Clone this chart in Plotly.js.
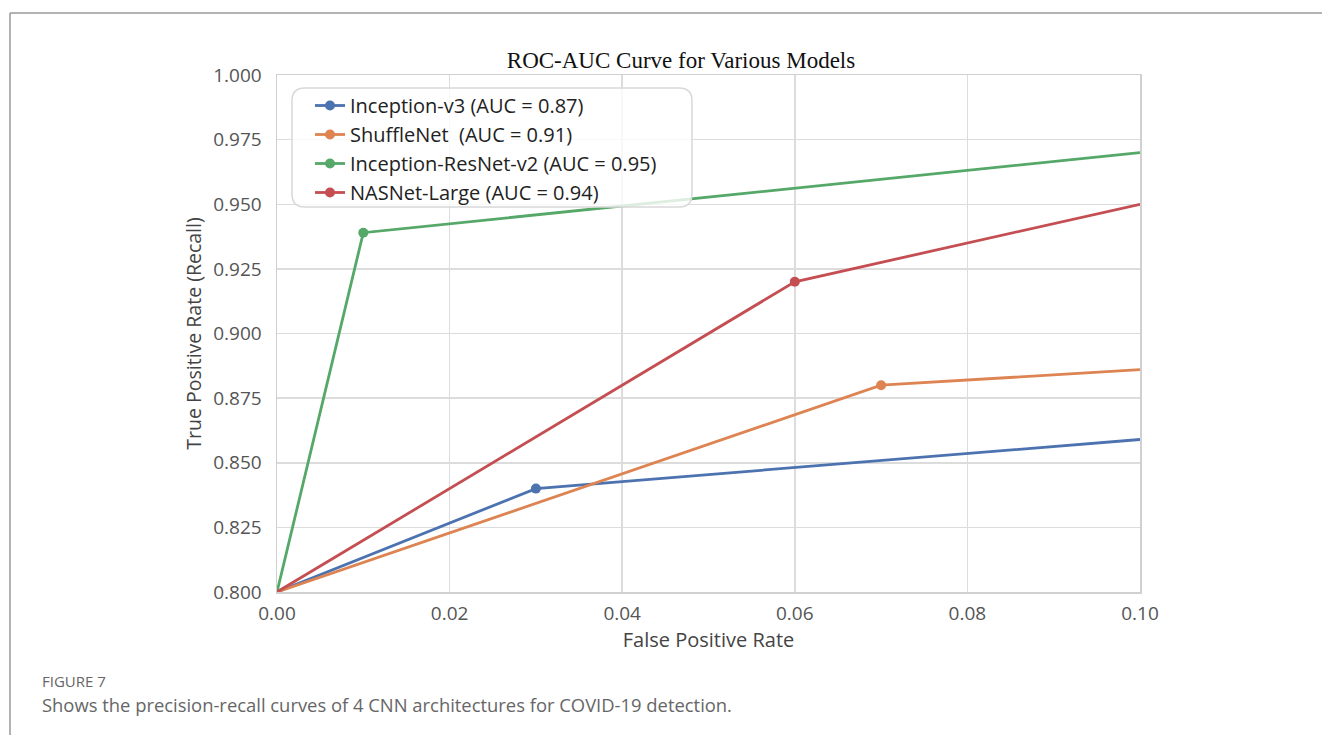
<!DOCTYPE html>
<html>
<head>
<meta charset="utf-8">
<script src="https://cdn.plot.ly/plotly-3.0.1.min.js"></script>
<style>
html,body{margin:0;padding:0;background:#fff;}
#chart{width:1322px;height:735px;}
</style>
</head>
<body>
<div id="chart"></div>
<script>
// Data
const modelNames = ["Inception-v3 (AUC = 0.87)", "ShuffleNet  (AUC = 0.91)", "Inception-ResNet-v2 (AUC = 0.95)", "NASNet-Large (AUC = 0.94)"];
const fprInceptionV3 = [0.0, 0.03, 0.10];
const tprInceptionV3 = [0.80, 0.84, 0.859];
const fprShuffleNet = [0.0, 0.07, 0.10];
const tprShuffleNet = [0.80, 0.88, 0.886];
const fprIncResNet = [0.0, 0.01, 0.10];
const tprIncResNet = [0.80, 0.939, 0.97];
const fprNASNet = [0.0, 0.06, 0.10];
const tprNASNet = [0.80, 0.92, 0.95];
const xTicks = [0.00, 0.02, 0.04, 0.06, 0.08, 0.10];
const yTicks = [0.800, 0.825, 0.850, 0.875, 0.900, 0.925, 0.950, 0.975, 1.000];
const colors = ["#4C72B0", "#DD8452", "#55A868", "#C44E52"];

const series = [
  [fprInceptionV3, tprInceptionV3],
  [fprShuffleNet, tprShuffleNet],
  [fprIncResNet, tprIncResNet],
  [fprNASNet, tprNASNet]
];

const traces = [];
series.forEach((s, i) => {
  // full curve (line only)
  traces.push({
    x: s[0], y: s[1], name: modelNames[i], type: "scatter", mode: "lines",
    line: {color: colors[i], width: 2.8}, showlegend: false, legendgroup: "g" + i
  });
});
series.forEach((s, i) => {
  // marked interior points (also provides the legend entry)
  const xs = s[0].slice(1, -1), ys = s[1].slice(1, -1);
  traces.push({
    x: xs, y: ys, name: modelNames[i], type: "scatter", mode: "lines+markers",
    line: {color: colors[i], width: 2.8}, marker: {color: colors[i], size: 10},
    legendgroup: "g" + i
  });
});

const L = 277, R = 1140, T = 75, B = 592;
const W = R - L, H = B - T;
const px = v => (v - L) / W;
const py = v => (B - v) / H;

// rounded legend box
const bx0 = 292, bx1 = 692, by0 = 88, by1 = 207, rr = 13;
function rp(x, y) { return px(x).toFixed(5) + "," + py(y).toFixed(5); }
const rpath = "M" + rp(bx0 + rr, by0) + " L" + rp(bx1 - rr, by0) +
  " Q" + rp(bx1, by0) + " " + rp(bx1, by0 + rr) +
  " L" + rp(bx1, by1 - rr) + " Q" + rp(bx1, by1) + " " + rp(bx1 - rr, by1) +
  " L" + rp(bx0 + rr, by1) + " Q" + rp(bx0, by1) + " " + rp(bx0, by1 - rr) +
  " L" + rp(bx0, by0 + rr) + " Q" + rp(bx0, by0) + " " + rp(bx0 + rr, by0) + " Z";

const layout = {
  width: 1322, height: 735,
  margin: {l: L, r: 1322 - R, t: T, b: 735 - B},
  paper_bgcolor: "#ffffff", plot_bgcolor: "#ffffff",
  font: {family: "Open Sans, Noto Sans, sans-serif", color: "#555"},
  title: {text: "ROC-AUC Curve for Various Models", font: {family: "Liberation Serif, Times New Roman, serif", size: 23, color: "#111"},
          x: px(681), xref: "paper", xanchor: "center", y: 1 - 60 / 735, yanchor: "middle"},
  xaxis: {range: [0, 0.1], tickvals: xTicks, ticktext: xTicks.map(v => v.toFixed(2)),
          showgrid: true, gridcolor: "#dcdcdc", gridwidth: 1.5, zeroline: false,
          showline: true, linecolor: "#d0d0d0", linewidth: 1.5, mirror: true,
          ticks: "", ticklabelstandoff: 4, tickfont: {size: 19, color: "#555"},
          title: {text: "False Positive Rate", font: {size: 20, color: "#444"}, standoff: 2}},
  yaxis: {range: [0.8, 1.0], tickvals: yTicks, ticktext: yTicks.map(v => v.toFixed(3)),
          showgrid: true, gridcolor: "#dcdcdc", gridwidth: 1.5, zeroline: false,
          showline: true, linecolor: "#d0d0d0", linewidth: 1.5, mirror: true,
          ticks: "", ticklabelstandoff: 10, tickfont: {size: 19, color: "#555"},
          title: {text: "True Positive Rate (Recall)", font: {size: 19.5, color: "#444"}, standoff: 6}},
  legend: {x: px(310), y: py(86), xanchor: "left", yanchor: "top", traceorder: "normal",
           bgcolor: "rgba(0,0,0,0)", borderwidth: 0,
           font: {size: 20, color: "#222", family: "Open Sans, Noto Sans, sans-serif"}},
  shapes: [
    {type: "path", path: rpath, xref: "paper", yref: "paper", layer: "above",
     fillcolor: "rgba(255,255,255,0.8)", line: {color: "#d8d8d8", width: 1.5}},
    {type: "line", xref: "paper", yref: "paper", x0: px(10), x1: px(1322), y0: py(13), y1: py(13), line: {color: "#999", width: 1.5}},
    {type: "line", xref: "paper", yref: "paper", x0: px(10), x1: px(10), y0: py(13), y1: py(735), line: {color: "#999", width: 1.5}}
  ],
  annotations: [
    {text: "FIGURE 7", xref: "paper", yref: "paper", x: px(40), y: py(681), xanchor: "left", yanchor: "middle",
     showarrow: false, font: {size: 15, color: "#666", family: "Open Sans, sans-serif"}},
    {text: "Shows the precision-recall curves of 4 CNN architectures for COVID-19 detection.", xref: "paper", yref: "paper",
     x: px(40), y: py(704), xanchor: "left", yanchor: "middle", showarrow: false,
     font: {size: 18.4, color: "#666", family: "Open Sans, sans-serif"}}
  ],
  showlegend: true
};

Plotly.newPlot("chart", traces, layout, {displayModeBar: false, staticPlot: true});
</script>
</body>
</html>
